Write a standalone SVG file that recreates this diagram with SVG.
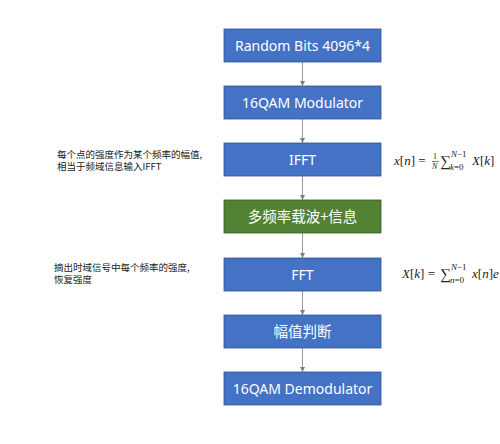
<svg xmlns="http://www.w3.org/2000/svg" width="500" height="444" viewBox="0 0 500 444">
<defs>
<style>
.box{fill:#4472C4;stroke:#2F528F;stroke-width:0.8}
.green{fill:#548235;stroke:#385723;stroke-width:0.8}
.lbl{font-family:"Noto Sans","Noto Sans CJK SC",sans-serif;font-size:14px;fill:#ffffff;text-anchor:middle}
.cjk{font-family:"Noto Sans CJK SC",sans-serif;font-size:14.5px;fill:#ffffff;text-anchor:middle}
.note{font-family:"Noto Sans CJK SC",sans-serif;font-size:9.5px;fill:#222222}
.math{font-family:"Liberation Serif",serif;font-size:13px;fill:#222222}
.conn{stroke:#7F7F7F;stroke-width:0.8;fill:none;marker-end:url(#arr)}
</style>
<marker id="arr" markerWidth="6" markerHeight="6" refX="5" refY="3" orient="auto" markerUnits="userSpaceOnUse">
<path d="M0,0.5 L5,3 L0,5.5 z" fill="#7F7F7F"/>
</marker>
</defs>
<rect width="500" height="444" fill="#ffffff"/>
<g id="connectors">
<line class="conn" x1="302.5" y1="62" x2="302.5" y2="86"/>
<line class="conn" x1="302.5" y1="119" x2="302.5" y2="143"/>
<line class="conn" x1="302.5" y1="176" x2="302.5" y2="200"/>
<line class="conn" x1="302.5" y1="233" x2="302.5" y2="258"/>
<line class="conn" x1="302.5" y1="291" x2="302.5" y2="315"/>
<line class="conn" x1="302.5" y1="348" x2="302.5" y2="372"/>
</g>
<g id="n1"><rect class="box" x="224" y="29" width="157" height="33"/><text class="lbl" x="302.5" y="50.5">Random Bits 4096*4</text></g>
<g id="n2"><rect class="box" x="224" y="86" width="157" height="33"/><text class="lbl" x="302.5" y="107.5">16QAM Modulator</text></g>
<g id="n3"><rect class="box" x="224" y="143" width="157" height="33"/><text class="lbl" x="302.5" y="164.5">IFFT</text></g>
<g id="n4"><rect class="green" x="224" y="200" width="157" height="33"/><text class="cjk" x="302.5" y="221.5">多频率载波+信息</text></g>
<g id="n5"><rect class="box" x="224" y="258" width="157" height="33"/><text class="lbl" x="302.5" y="279.5">FFT</text></g>
<g id="n6"><rect class="box" x="224" y="315" width="157" height="33"/><text class="cjk" x="302.5" y="336.5">幅值判断</text></g>
<g id="n7"><rect class="box" x="224" y="372" width="157" height="33"/><text class="lbl" x="302.5" y="393.5">16QAM Demodulator</text></g>
<g id="note1"><text class="note" x="57" y="157.5">每个点的强度作为某个频率的幅值,</text><text class="note" x="57" y="170">相当于频域信息输入IFFT</text></g>
<g id="note2"><text class="note" x="54" y="270.5">摘出时域信号中每个频率的强度,</text><text class="note" x="54" y="283">恢复强度</text></g>
<g id="formula1" class="math">
<text x="394" y="165"><tspan font-style="italic">x</tspan>[<tspan font-style="italic">n</tspan>] =</text>
<text x="433" y="159" font-size="8">1</text>
<line x1="432" y1="161.5" x2="439" y2="161.5" stroke="#222" stroke-width="0.6"/>
<text x="432" y="169" font-size="8" font-style="italic">N</text>
<text x="440" y="166" font-size="15">∑</text>
<text x="451" y="157" font-size="9"><tspan font-style="italic">N</tspan>−1</text>
<text x="450" y="170" font-size="9"><tspan font-style="italic">k</tspan>=0</text>
<text x="472" y="165"><tspan font-style="italic">X</tspan>[<tspan font-style="italic">k</tspan>]</text>
</g>
<g id="formula2" class="math">
<text x="402" y="278"><tspan font-style="italic">X</tspan>[<tspan font-style="italic">k</tspan>] =</text>
<text x="440" y="279" font-size="15">∑</text>
<text x="451" y="270" font-size="9"><tspan font-style="italic">N</tspan>−1</text>
<text x="450" y="283" font-size="9"><tspan font-style="italic">n</tspan>=0</text>
<text x="472" y="278"><tspan font-style="italic">x</tspan>[<tspan font-style="italic">n</tspan>]<tspan font-style="italic">e</tspan></text>
</g>
</svg>
